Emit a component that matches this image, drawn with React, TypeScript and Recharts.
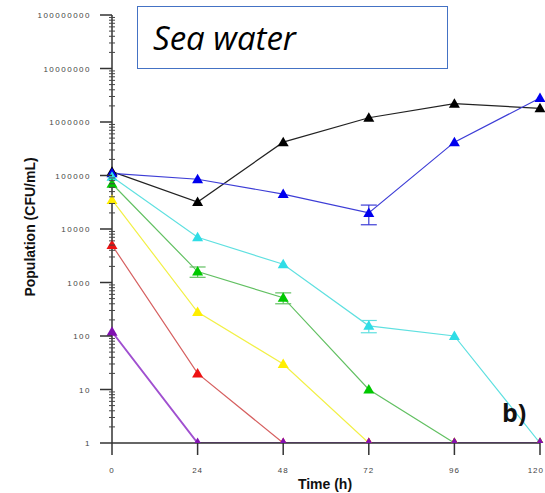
import { LineChart, Line, XAxis, YAxis, ErrorBar } from 'recharts'

const times = [0, 24, 48, 72, 96, 120]
const control = [118000, 32000, 420000, 1200000, 2200000, 1800000]
const blue = [110000, 85000, 45000, 20000, 420000, 2800000]
const cyan = [95000, 7000, 2200, 155, 100, 1]
const green = [70000, 1600, 520, 10, 1, 1]
const yellow = [35000, 280, 30, 1, 1, 1]
const red = [5000, 20, 1, 1, 1, 1]
const purple = [120, 1, 1, 1, 1, 1]

const blueErr = [0, 0, 0, 8000, 0, 0]
const cyanErr = [0, 0, 0, 40, 0, 0]
const greenErr = [0, 350, 120, 0, 0, 0]

const xTicks = [0, 24, 48, 72, 96, 120]
const majorTicks = [1, 10, 100, 1000, 10000, 100000, 1000000, 10000000, 100000000]
const yTicks: number[] = []
majorTicks.forEach((m, i) => {
  if (i === majorTicks.length - 1) {
    yTicks.push(m)
    return
  }
  for (let k = 1; k < 10; k++) yTicks.push(m * k)
})

const err = (e: number) => (e ? [e, e] : null)

const data = times.map((t, i) => ({
  t,
  control: control[i],
  blue: blue[i],
  cyan: cyan[i],
  green: green[i],
  yellow: yellow[i],
  red: red[i],
  purple: purple[i],
  blueErr: err(blueErr[i]),
  cyanErr: err(cyanErr[i]),
  greenErr: err(greenErr[i]),
}))

const series = [
  { key: 'control', line: '#222222', fill: '#000000' },
  { key: 'blue', line: '#3d3dd6', fill: '#0000ee', errKey: 'blueErr' },
  { key: 'cyan', line: '#5fe0e0', fill: '#2fdde6', errKey: 'cyanErr' },
  { key: 'green', line: '#62c062', fill: '#00c800', errKey: 'greenErr' },
  { key: 'yellow', line: '#f2f046', fill: '#ffee00' },
  { key: 'red', line: '#d66060', fill: '#ee1111' },
  { key: 'purple', line: '#a050d0', fill: '#8010b0' },
]

function triangle(fill: string) {
  return (p: any) => {
    const { cx, cy, index } = p
    if (cx == null || cy == null) return <g key={index} />
    return (
      <polygon
        key={index}
        points={`${cx},${cy - 5.5} ${cx - 5.5},${cy + 4} ${cx + 5.5},${cy + 4}`}
        fill={fill}
      />
    )
  }
}

const tickFont = 'Liberation Sans, Arial, sans-serif'

function YTick(props: any) {
  const { x, y, payload } = props
  const v = payload.value
  const isMajor = majorTicks.includes(v)
  if (isMajor) {
    return (
      <g>
        <line x1={x - 12} x2={x} y1={y} y2={y} stroke="#333" strokeWidth={1.5} />
        <text x={x - 21} y={y + 3} textAnchor="end" fontSize={8} letterSpacing={1.5} fill="#444" fontFamily={tickFont}>
          {String(v)}
        </text>
      </g>
    )
  }
  return <line x1={x - 3} x2={x + 3} y1={y} y2={y} stroke="#444" strokeWidth={1} />
}

function XTick(props: any) {
  const { x, y, payload } = props
  const last = payload.value === 120
  return (
    <g>
      <line x1={x} x2={x} y1={y} y2={y + 12} stroke="#333" strokeWidth={1.5} />
      <text
        x={last ? 544 : x}
        y={y + 30}
        textAnchor={last ? 'end' : 'middle'}
        fontSize={8}
        letterSpacing={1}
        fill="#444"
        fontFamily={tickFont}
      >
        {String(payload.value)}
      </text>
    </g>
  )
}

export default function App() {
  return (
    <div style={{ position: 'absolute', left: 0, top: 0, width: 545, height: 493, background: '#fff' }}>
      <LineChart width={545} height={493} data={data} margin={{ top: 15, right: 5, bottom: 20, left: 52 }}>
        <XAxis
          dataKey="t"
          type="number"
          domain={[0, 120]}
          ticks={xTicks}
          tick={<XTick />}
          tickLine={false}
          tickSize={0}
          tickMargin={0}
          height={30}
          interval={0}
          axisLine={{ stroke: '#333', strokeWidth: 1.5 }}
        />
        <YAxis
          scale="log"
          domain={[1, 100000000]}
          ticks={yTicks}
          interval={0}
          allowDataOverflow
          tick={<YTick />}
          tickLine={false}
          tickSize={0}
          tickMargin={0}
          width={60}
          axisLine={{ stroke: '#333', strokeWidth: 1.5 }}
        />
        {series.map((s) => (
          <Line
            key={s.key}
            dataKey={s.key}
            type="linear"
            stroke={s.line}
            strokeWidth={s.key === 'purple' ? 2 : 1.2}
            dot={triangle(s.fill)}
            activeDot={false}
            isAnimationActive={false}
          >
            {s.errKey && (
              <ErrorBar dataKey={s.errKey} width={8} stroke={s.line} strokeWidth={1.2} direction="y" />
            )}
          </Line>
        ))}
      </LineChart>
      <div
        style={{
          position: 'absolute',
          left: 137,
          top: 6,
          width: 311,
          height: 63,
          border: '1.5px solid #4472c4',
          boxSizing: 'border-box',
        }}
      />
      <div
        style={{
          position: 'absolute',
          left: 153,
          top: 16,
          fontFamily: 'Open Sans, sans-serif',
          fontStyle: 'italic',
          fontSize: 33,
          lineHeight: '44px',
          color: '#000',
          whiteSpace: 'nowrap',
        }}
      >
        Sea water
      </div>
      <div
        style={{
          position: 'absolute',
          left: 502,
          top: 397,
          fontFamily: 'Open Sans, sans-serif',
          fontWeight: 700,
          fontSize: 25,
          lineHeight: '30px',
          color: '#111',
        }}
      >
        b)
      </div>
      <div
        style={{
          position: 'absolute',
          left: 325,
          top: 484,
          transform: 'translate(-50%, -50%)',
          fontFamily: 'Liberation Sans, Arial, sans-serif',
          fontWeight: 700,
          fontSize: 14,
          whiteSpace: 'nowrap',
          color: '#111',
        }}
      >
        Time (h)
      </div>
      <div
        style={{
          position: 'absolute',
          left: 30,
          top: 227,
          transform: 'translate(-50%, -50%) rotate(-90deg)',
          fontFamily: 'Liberation Sans, Arial, sans-serif',
          fontWeight: 700,
          fontSize: 14,
          whiteSpace: 'nowrap',
          color: '#111',
        }}
      >
        Population (CFU/mL)
      </div>
    </div>
  )
}
